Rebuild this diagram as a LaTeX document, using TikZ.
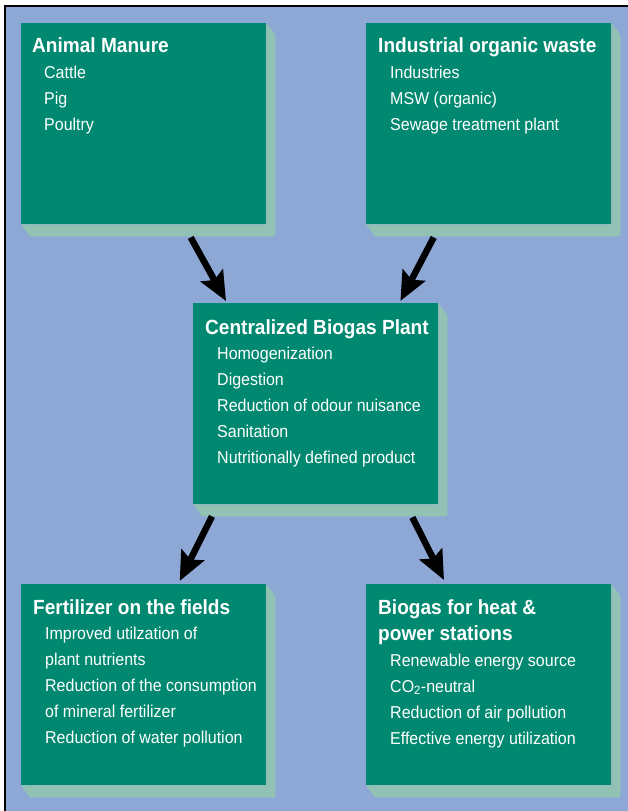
\documentclass[tikz,border=0pt]{standalone}
\usepackage{fontspec}
\setmainfont{Liberation Sans}[FakeStretch=0.93]
\usepackage{tikz}
\usetikzlibrary{arrows.meta,positioning,calc}

\definecolor{bgblue}{RGB}{142,168,214}
\definecolor{boxgreen}{RGB}{0,137,112}
\definecolor{shadegreen}{RGB}{146,194,179}

\begin{document}
\begin{tikzpicture}[
    x=1pt, y=1pt,
    box/.style={rectangle, fill=boxgreen, anchor=north west, inner sep=0pt, minimum width=245pt, minimum height=201pt},
    head/.style={anchor=base west, inner sep=0pt, text=white, align=left, font=\fontsize{20.5}{26}\selectfont\bfseries},
    list/.style={anchor=base west, inner sep=0pt, text=white, align=left, font=\fontsize{17.2}{26}\selectfont},
    arr/.style={-{Stealth[length=29pt,width=25pt,inset=5pt]}, line width=6.5pt}
]
    \useasboundingbox (0,0) rectangle (628,-811);
    \fill[white] (0,0) rectangle (628,-811);
    \fill[bgblue] (5,-6) rectangle (628,-811);
    \draw[line width=1.5pt] (5,-811) -- (5,-6) -- (628,-6);

    \node[box] (manure) at (21,-23) {};
    \node[box] (waste) at (366,-23) {};
    \node[box] (plant) at (193,-303) {};
    \node[box] (fields) at (21,-584) {};
    \node[box] (power) at (366,-584) {};

    % extruded edge of each box
    \foreach \b in {manure,waste,plant,fields,power}
        \fill[shadegreen] (\b.north east) -- ++(9pt,-12pt) -- ($(\b.south east)+(9,-12)$)
            -- ($(\b.south west)+(9,-12)$) -- (\b.south west) -- (\b.south east) -- cycle;

    % base of a multi-line node sits on its last line
    \node[head] (manurehead) at ($(manure.north west)+(11,-29.7)$) {Animal Manure};
    \node[list] (manurelist) at ($(manurehead.base west)+(12,-78)$) {Cattle\\Pig\\Poultry};

    \node[head] (wastehead) at ($(waste.north west)+(12,-29.7)$) {Industrial organic waste};
    \node[list] (wastelist) at ($(wastehead.base west)+(12,-78)$) {Industries\\MSW (organic)\\Sewage treatment plant};

    \node[head] (planthead) at ($(plant.north west)+(12,-31)$) {Centralized Biogas Plant};
    \node[list] (plantlist) at ($(planthead.base west)+(12,-129.5)$) {Homogenization\\Digestion\\Reduction of odour nuisance\\Sanitation\\Nutritionally defined product};

    \node[head] (fieldshead) at ($(fields.north west)+(12,-30.3)$) {Fertilizer on the fields};
    \node[list] (fieldslist) at ($(fieldshead.base west)+(12,-129.3)$) {Improved utilzation of\\plant nutrients\\Reduction of the consumption\\of mineral fertilizer\\Reduction of water pollution};

    \node[head] (powerhead) at ($(power.north west)+(12,-56)$) {Biogas for heat \&\\power stations};
    \node[list] (powerlist) at ($(powerhead.base west)+(12,-104)$) {Renewable energy source\\CO\textsubscript{2}-neutral\\Reduction of air pollution\\Effective energy utilization};

    \draw[arr] ($(manure.south)+(47,-13)$) -- ($(plant.north west)+(33,2)$);
    \draw[arr] ($(waste.south)+(-55,-13)$) -- ($(plant.north east)+(-38,2)$);
    \draw[arr] ($(plant.south west)+(19,-12)$) -- ($(fields.north)+(36,3)$);
    \draw[arr] ($(plant.south east)+(-26,-13)$) -- ($(power.north west)+(78,4)$);
\end{tikzpicture}
\end{document}
